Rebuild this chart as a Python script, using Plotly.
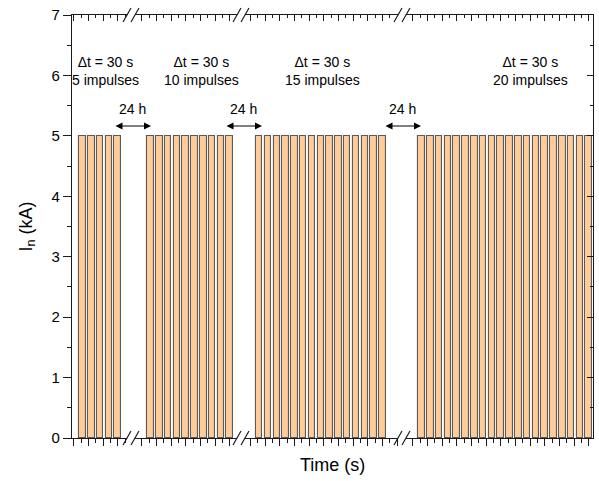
import plotly.graph_objects as go

# ---- data ----
group_impulses = [5, 10, 15, 20]          # impulses per test block
interval_s = 30                            # time between impulses (s)
current_kA = 5                             # impulse current In (kA)
gap_label = "24 h"                         # pause between blocks
y_ticks = [0, 1, 2, 3, 4, 5, 6, 7]

# ---- layout constants (pixels) ----
W, H = 599, 481
L, R, T, B = 72, 593, 15, 438
PW, PH = R - L, B - T
seg_px = [(72, 127), (135, 237), (245, 398), (406, 593)]
first_center_px = [82.5, 150.5, 259.25, 421.5]
px_per_s = 8.8 / interval_s
bar_w_s = 22
text_cx = [105, 201, 322, 530]
arrow_px = [(114, 151), (225, 262), (384, 421)]
FONT = "Liberation Sans, Arial, sans-serif"
LINE = "#1a1a1a"


def px2x(px):
    return (px - L) / PW


def py2y(py):
    return (B - py) / PH


fig = go.Figure()
layout = dict(
    width=W, height=H,
    margin=dict(l=L, r=W - R, t=T, b=H - B, pad=0),
    paper_bgcolor="white", plot_bgcolor="white",
    showlegend=False, bargap=0,
    font=dict(family=FONT, size=15, color="black"),
)

for i, n in enumerate(group_impulses):
    k = i + 1
    a, b = seg_px[i]
    lo = interval_s - (first_center_px[i] - a) / px_per_s
    hi = lo + (b - a) / px_per_s
    xs = [interval_s * (j + 1) for j in range(n)]
    ys = [current_kA] * n
    xname = "x" if k == 1 else f"x{k}"
    fig.add_trace(go.Bar(
        x=xs, y=ys, width=bar_w_s, xaxis=xname, yaxis="y",
        marker=dict(color="#FFCC99", line=dict(color="#5a5a5a", width=1.1)),
        hoverinfo="x+y",
    ))
    common = dict(
        domain=[px2x(a), px2x(b)], range=[lo, hi], showgrid=False, zeroline=False,
        showline=True, linecolor=LINE, linewidth=1.3, showticklabels=False,
        tick0=0, dtick=50, tickcolor=LINE, tickwidth=1,
    )
    layout["xaxis" if k == 1 else f"xaxis{k}"] = dict(
        common, anchor="y", side="bottom", ticks="outside", ticklen=7,
        minor=dict(dtick=25, tick0=0, ticks="outside", ticklen=4, tickcolor=LINE, showgrid=False),
    )
    kt = k + 4
    layout[f"xaxis{kt}"] = dict(
        common, anchor="y", side="top", overlaying=xname, ticks="inside", ticklen=6,
        minor=dict(dtick=25, tick0=0, ticks="inside", ticklen=3, tickcolor=LINE, showgrid=False),
    )
    fig.add_trace(go.Scatter(x=[], y=[], xaxis=f"x{kt}", yaxis="y", showlegend=False, hoverinfo="skip"))

layout["yaxis"] = dict(
    domain=[0, 1], range=[0, 7], anchor="x", side="left", showgrid=False, zeroline=False,
    showline=True, linecolor=LINE, linewidth=1.3, tickvals=y_ticks, ticks="outside",
    ticklen=8, tickcolor=LINE, tickfont=dict(size=15, family=FONT),
    minor=dict(dtick=0.5, tick0=0, ticks="outside", ticklen=4, tickcolor=LINE, showgrid=False),
)
layout["yaxis2"] = dict(
    range=[0, 7], anchor="x4", side="right", overlaying="y", showgrid=False, zeroline=False,
    showline=True, linecolor=LINE, linewidth=1.3, tickvals=y_ticks, ticks="inside",
    ticklen=6, tickcolor=LINE, showticklabels=False,
    minor=dict(dtick=0.5, tick0=0, ticks="inside", ticklen=3, tickcolor=LINE, showgrid=False),
)
fig.add_trace(go.Scatter(x=[], y=[], xaxis="x4", yaxis="y2", showlegend=False, hoverinfo="skip"))

# axis break marks (//) at top and bottom
shapes = []
for i in range(len(seg_px) - 1):
    for xb in (seg_px[i][1], seg_px[i + 1][0]):
        for yb in (B, T):
            shapes.append(dict(
                type="line", xref="paper", yref="paper",
                x0=px2x(xb - 4), x1=px2x(xb + 4), y0=py2y(yb + 7), y1=py2y(yb - 7),
                line=dict(color=LINE, width=1.2),
            ))
layout["shapes"] = shapes

ann = []
for i, n in enumerate(group_impulses):
    ann.append(dict(
        xref="paper", yref="paper", x=px2x(text_cx[i]), y=py2y(70.5),
        text=f"\u0394t = {interval_s} s<br>{n} impulses", showarrow=False,
        xanchor="center", yanchor="middle", font=dict(size=14, family=FONT),
    ))
for a, b in arrow_px:
    ann.append(dict(
        xref="paper", yref="paper", x=px2x(b), y=py2y(126), axref="pixel", ayref="pixel",
        ax=a - b, ay=0, text="", showarrow=True, arrowhead=2, startarrowhead=2,
        arrowside="end+start", arrowsize=1.4, arrowwidth=1, arrowcolor="black",
    ))
    ann.append(dict(
        xref="paper", yref="paper", x=px2x((a + b) / 2), y=py2y(109),
        text=gap_label, showarrow=False, xanchor="center", yanchor="middle",
        font=dict(size=14, family=FONT),
    ))
ann.append(dict(
    xref="paper", yref="paper", x=px2x((L + R) / 2), y=py2y(465), text="Time (s)",
    showarrow=False, xanchor="center", yanchor="middle", font=dict(size=18, family=FONT),
))
ann.append(dict(
    xref="paper", yref="paper", x=px2x(27), y=py2y((T + B) / 2), text="I<sub>n</sub> (kA)",
    showarrow=False, xanchor="center", yanchor="middle", textangle=-90,
    font=dict(size=18, family=FONT),
))
layout["annotations"] = ann

fig.update_layout(**layout)
fig.write_html(
    "out.html",
    config={"displayModeBar": False},
    post_script="document.body.style.margin='0';document.body.style.overflow='hidden';",
)
